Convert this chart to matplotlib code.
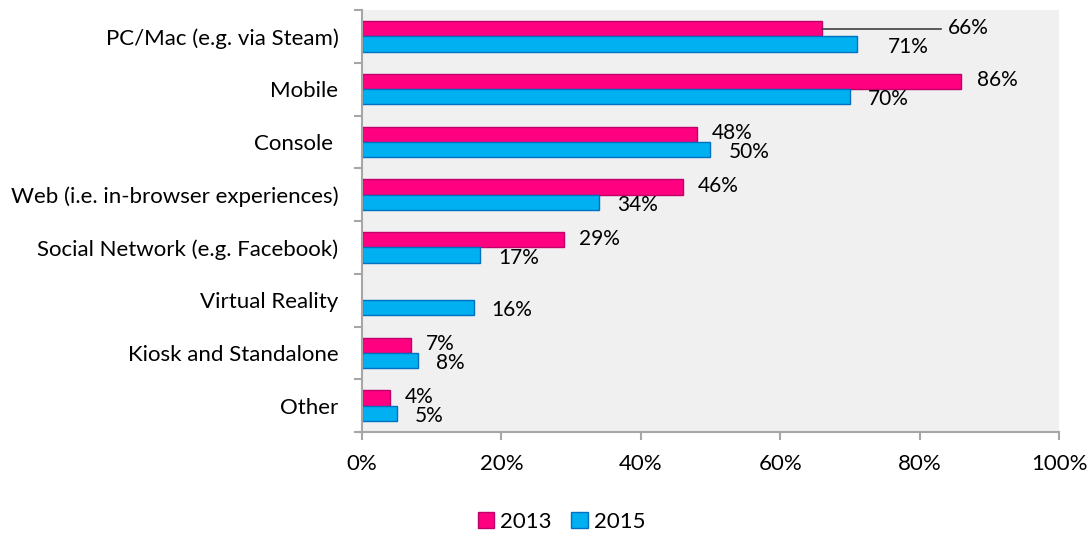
import matplotlib
matplotlib.use("Agg")
import matplotlib.pyplot as plt
import numpy as np

plt.rcParams['font.family'] = ['Lato', 'DejaVu Sans']

categories = ["PC/Mac (e.g. via Steam)", "Mobile", "Console ",
              "Web (i.e. in-browser experiences)", "Social Network (e.g. Facebook)",
              "Virtual Reality", "Kiosk and Standalone", "Other"]
vals_2013 = [66, 86, 48, 46, 29, None, 7, 4]
vals_2015 = [71, 70, 50, 34, 17, 16, 8, 5]
x_ticks = [0, 20, 40, 60, 80, 100]

pink, pink_edge = "#ff0080", "#c0006a"
blue, blue_edge = "#00b0f0", "#0070c0"
gray = "#a6a6a6"

fig = plt.figure(figsize=(10.92, 5.33), dpi=100)
ax = fig.add_axes([362/1092, 1 - 432/533, 697/1092, 422/533])
ax.set_facecolor("#f0f0f0")

y = np.arange(len(categories))
h = 0.29
v13 = [v if v is not None else 0 for v in vals_2013]
b13 = ax.barh(y - h/2, v13, height=h, color=pink, edgecolor=pink_edge, linewidth=1)
b15 = ax.barh(y + h/2, vals_2015, height=h, color=blue, edgecolor=blue_edge, linewidth=1)
for bar, v in zip(b13, vals_2013):
    if v is None:
        bar.set_visible(False)

# data labels
for i, v in enumerate(vals_2013):
    if v is None:
        continue
    if i == 0:
        # leader line for the crowded top label
        ax.plot([v, 83], [i - h/2, i - h/2], color="#404040", lw=1.2)
        ax.text(84, i - h/2 - 0.02, f"{v}%", va="center", ha="left", fontsize=15)
    else:
        ax.annotate(f"{v}%", (v, i - h/2 - 0.02), xytext=(11, 0), textcoords="offset points",
                    va="center", ha="left", fontsize=15)
for i, v in enumerate(vals_2015):
    off = 22 if i == 0 else 13
    ax.annotate(f"{v}%", (v, i + h/2 + 0.05), xytext=(off, 0), textcoords="offset points",
                va="center", ha="left", fontsize=15)

ax.set_xlim(0, 100)
ax.set_ylim(len(categories) - 0.5, -0.5)
ax.set_xticks(x_ticks)
ax.set_xticklabels([f"{t}%" for t in x_ticks], fontsize=16)
ax.set_yticks(y)
ax.set_yticklabels(categories, fontsize=16)
ax.tick_params(axis="y", length=0, pad=17)
ax.set_yticks(np.arange(len(categories) + 1) - 0.5, minor=True)
ax.tick_params(axis="y", which="minor", length=6, color=gray, width=1.5)
ax.tick_params(axis="x", length=6, color=gray, width=1.5, pad=10)
for s in ["top", "right"]:
    ax.spines[s].set_visible(False)
for s in ["left", "bottom"]:
    ax.spines[s].set_color(gray)
    ax.spines[s].set_linewidth(1.5)

leg = fig.legend([b13, b15], ["2013", "2015"], loc="center", bbox_to_anchor=(0.514, 1 - 522/533),
                 ncol=2, frameon=False, fontsize=16, handlelength=0.75, handleheight=0.75,
                 handletextpad=0.25, columnspacing=0.9)

fig.savefig("out.png", dpi=100)
